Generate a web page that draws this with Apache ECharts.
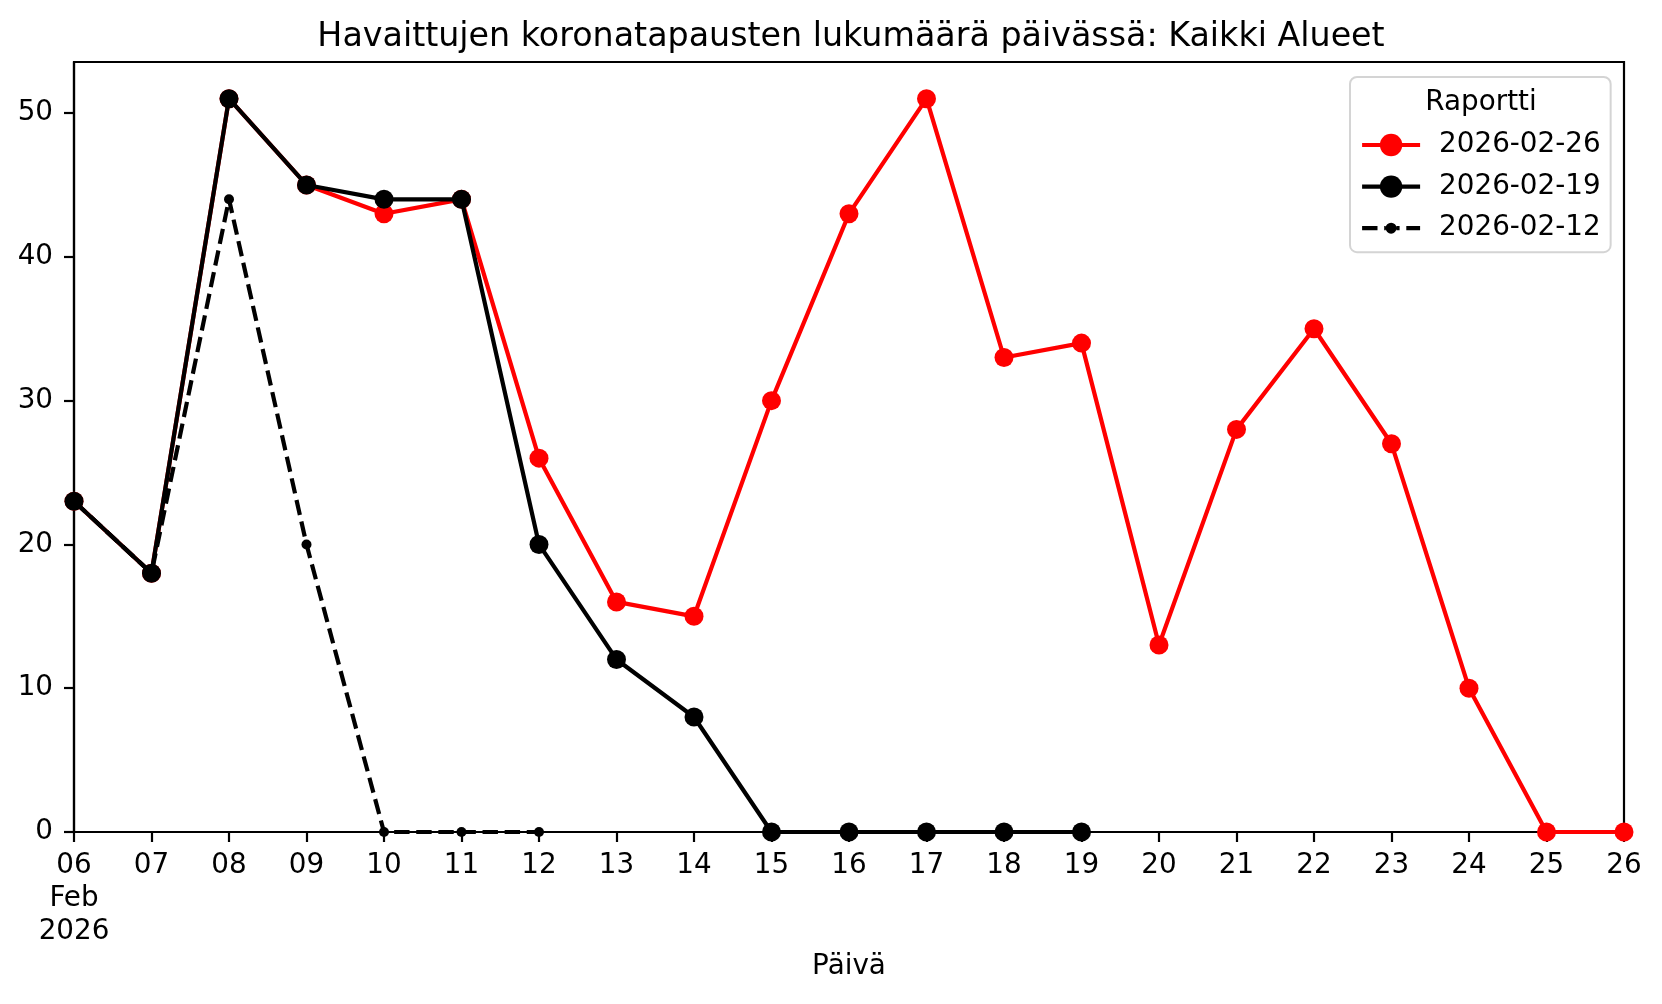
<!DOCTYPE html>
<html>
<head>
<meta charset="utf-8">
<script src="https://cdn.jsdelivr.net/npm/echarts@6/dist/echarts.min.js"></script>
<style>
html,body{margin:0;padding:0;background:#fff;}
#chart{width:1662px;height:1004px;}
</style>
</head>
<body>
<div id="chart"></div>
<script>
const days = ['2026-02-06','2026-02-07','2026-02-08','2026-02-09','2026-02-10','2026-02-11','2026-02-12','2026-02-13','2026-02-14','2026-02-15','2026-02-16','2026-02-17','2026-02-18','2026-02-19','2026-02-20','2026-02-21','2026-02-22','2026-02-23','2026-02-24','2026-02-25','2026-02-26'];
const report0226 = [23,18,51,45,43,44,26,16,15,30,43,51,33,34,13,28,35,27,10,0,0];
const report0219 = [23,18,51,45,44,44,20,12,8,0,0,0,0,0];
const report0212 = [23,18,44,20,0,0,0];
const yTicks = [0,10,20,30,40,50];
const seriesNames = ['2026-02-26','2026-02-19','2026-02-12'];
const titleText = 'Havaittujen koronatapausten lukumäärä päivässä: Kaikki Alueet';
const xName = 'Päivä';
const legendTitle = 'Raportti';

const FONT = 'DejaVu Sans';
// legend glyph for the dashed series: dashes with a small dot in the middle
const dashedIcon = 'path://M0 11.9H15.4V16.1H0Z M22.1 11.9H23.6V16.1H22.1Z M34.4 11.9H37.5V16.1H34.4Z M44.2 11.9H58V16.1H44.2Z M23.5 14A5.5 5.5 0 1 1 34.5 14A5.5 5.5 0 1 1 23.5 14Z';

const chart = echarts.init(document.getElementById('chart'), null, {renderer:'canvas'});
const option = {
  animation: false,
  backgroundColor: '#ffffff',
  title: {
    text: titleText,
    left: 846, top: 16, textAlign: 'center',
    textStyle: {fontFamily: FONT, fontSize: 33.3, fontWeight: 'normal', color: '#000'}
  },
  grid: {
    left: 74, right: 38, top: 62, bottom: 172,
    show: true, borderColor: '#000', borderWidth: 2.2, backgroundColor: 'transparent',
    containLabel: false
  },
  legend: {
    left: 1350, top: 77,
    orient: 'vertical',
    padding: [54, 10, 10, 10],
    itemWidth: 58, itemHeight: 28, itemGap: 13.6,
    symbolKeepAspect: true,
    backgroundColor: 'rgba(255,255,255,0.8)',
    borderColor: '#d4d4d4', borderWidth: 2, borderRadius: 7,
    lineStyle: {width: 4.2},
    textStyle: {fontFamily: FONT, fontSize: 27.8, color: '#000', padding: [0,0,0,14]},
    data: [
      {name: seriesNames[0]},
      {name: seriesNames[1]},
      {name: seriesNames[2], icon: dashedIcon, itemStyle: {color: '#000000'}}
    ]
  },
  graphic: [{
    type: 'text', x: 1481, y: 103, z: 100,
    style: {text: legendTitle, font: '27.8px "DejaVu Sans"', fill: '#000', align: 'center', verticalAlign: 'middle'}
  }],
  xAxis: {
    type: 'category',
    data: days,
    boundaryGap: false,
    name: xName,
    nameLocation: 'middle',
    nameGap: 120,
    nameTextStyle: {fontFamily: FONT, fontSize: 27.8, color: '#000'},
    axisLine: {show: true, lineStyle: {color: '#000', width: 2.2}},
    axisTick: {show: true, inside: false, length: 10, alignWithLabel: true, interval: 0, lineStyle: {color: '#000', width: 2.2}},
    axisLabel: {
      interval: 0, margin: 17, fontFamily: FONT, fontSize: 27.8, color: '#000', lineHeight: 33,
      formatter: function (v, i) {
        const d = v.slice(8, 10);
        return i === 0 ? d + '\nFeb\n2026' : d;
      }
    },
    splitLine: {show: false}
  },
  yAxis: {
    type: 'value',
    min: 0, max: 53.55,
    axisLine: {show: true, lineStyle: {color: '#000', width: 2.2}},
    axisTick: {show: true, inside: false, length: 10, customValues: yTicks, lineStyle: {color: '#000', width: 2.2}},
    axisLabel: {margin: 21, fontFamily: FONT, fontSize: 27.8, color: '#000', customValues: yTicks},
    splitLine: {show: false}
  },
  series: [
    {
      name: seriesNames[0], type: 'line', data: report0226,
      symbol: 'circle', symbolSize: 19, showAllSymbol: true,
      lineStyle: {color: '#ff0000', width: 4.2},
      itemStyle: {color: '#ff0000'},
      z: 2
    },
    {
      name: seriesNames[1], type: 'line', data: report0219,
      symbol: 'circle', symbolSize: 19, showAllSymbol: true,
      lineStyle: {color: '#000000', width: 4.2},
      itemStyle: {color: '#000000'},
      z: 3
    },
    {
      name: seriesNames[2], type: 'line', data: report0212,
      symbol: 'circle', symbolSize: 10, showAllSymbol: true,
      lineStyle: {color: '#000000', width: 4.2, type: [15.4, 6.7]},
      itemStyle: {color: '#000000'},
      z: 4
    }
  ]
};
chart.setOption(option);
</script>
</body>
</html>
